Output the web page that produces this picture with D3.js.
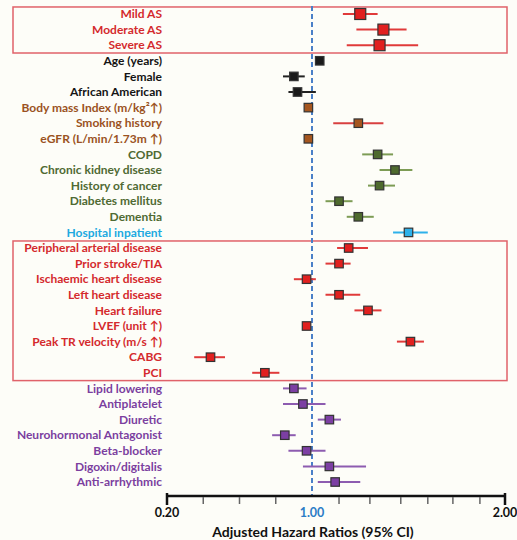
<!DOCTYPE html>
<html><head><meta charset="utf-8">
<script src="https://cdn.jsdelivr.net/npm/d3@7"></script>
<style>body{margin:0;background:#fff}svg{display:block}text{font-family:Lato,"Open Sans",sans-serif;font-weight:700}</style>
</head><body><svg id="c" width="517" height="540"></svg>
<script>
const labels = ["Mild AS","Moderate AS","Severe AS","Age (years)","Female","African American",
"Body mass Index (m/kg\u00B2\u2191)","Smoking history","eGFR (L/min/1.73m \u2191)","COPD","Chronic kidney disease",
"History of cancer","Diabetes mellitus","Dementia","Hospital inpatient","Peripheral arterial disease",
"Prior stroke/TIA","Ischaemic heart disease","Left heart disease","Heart failure","LVEF (unit \u2191)",
"Peak TR velocity (m/s \u2191)","CABG","PCI","Lipid lowering","Antiplatelet","Diuretic",
"Neurohormonal  Antagonist","Beta-blocker","Digoxin/digitalis","Anti-arrhythmic"];
const groups = ["red","red","red","black","black","black","brown","brown","brown","green","green",
"green","green","green","cyan","red","red","red","red","red","red","red","red","red",
"purple","purple","purple","purple","purple","purple","purple"];
const hr   = [1.25,1.37,1.35,1.04,0.90,0.92,0.98,1.24,0.98,1.34,1.43,1.35,1.14,1.24,1.50,1.19,1.14,0.97,1.14,1.29,0.97,1.51,0.44,0.74,0.90,0.95,1.09,0.85,0.97,1.09,1.12];
const lo   = [1.16,1.23,1.18,null,0.84,0.87,null,1.11,null,1.26,1.35,1.29,1.07,1.18,1.42,1.13,1.07,0.90,1.07,1.22,null,1.44,0.35,0.67,0.84,0.84,1.03,0.78,0.87,0.95,1.03];
const hi   = [1.34,1.49,1.55,null,0.96,1.02,null,1.37,null,1.42,1.52,1.43,1.21,1.32,1.60,1.29,1.20,1.02,1.25,1.36,null,1.58,0.52,0.82,0.97,1.07,1.15,0.91,1.07,1.28,1.25];
const majorTicks = [0.2,1,2];
const majorTickLabels = ["0.20","1.00","2.00"];
const minorTicks = [0.4,0.6,0.8,1.14,1.3,1.46,1.6,1.73,1.87];
const boxedRows = [[0,2],[15,23]];

const textCol = {red:"#d42a2d",black:"#141414",brown:"#9a5222",green:"#4f6a33",cyan:"#20a9e0",purple:"#7b3f9f"};
const fillCol = {red:"#e1201f",black:"#1a1a1a",brown:"#a5561f",green:"#4e6a2e",cyan:"#2eb1ea",purple:"#7c3fa3"};
const lineCol = {red:"#e03a3a",black:"#222",brown:"#d84040",green:"#7d9c55",cyan:"#2eb1ea",purple:"#8d5cb0"};

const svg = d3.select("#c");
svg.append("rect").attr("width",517).attr("height",540).attr("fill","#fdfdf8");
const x = d3.scaleLinear().domain([0.2,1,2]).range([167,312,505]);
const y = d3.scalePoint().domain(d3.range(labels.length)).range([14,482]);
const step = y.step();

// red boxes
boxedRows.forEach(([a,b])=>{
  svg.append("rect").attr("x",13).attr("width",494)
    .attr("y",y(a)-step*0.45).attr("height",y(b)-y(a)+step*0.95)
    .attr("fill","none").attr("stroke","#e0626a").attr("stroke-width",1.5);
});

// reference line
const axisY = 496;
svg.append("line").attr("x1",x(1)).attr("x2",x(1)).attr("y1",6).attr("y2",axisY)
  .attr("stroke","#4a80c8").attr("stroke-width",2).attr("stroke-dasharray","5,3");

// labels
svg.append("g").selectAll("text").data(labels).join("text")
  .attr("x",162).attr("y",(d,i)=>y(i)).attr("dy","0.35em").attr("text-anchor","end")
  .attr("font-size",12).attr("fill",(d,i)=>textCol[groups[i]]).text(d=>d);

// CIs
const rows = d3.range(labels.length);
svg.append("g").selectAll("line").data(rows.filter(i=>lo[i]!=null)).join("line")
  .attr("x1",i=>x(lo[i])).attr("x2",i=>x(hi[i])).attr("y1",i=>y(i)).attr("y2",i=>y(i))
  .attr("stroke",i=>lineCol[groups[i]]).attr("stroke-width",2);
// squares
svg.append("g").selectAll("rect").data(rows).join("rect")
  .each(function(i){
    const s = i<3 ? 11 : 8.5;
    d3.select(this).attr("x",x(hr[i])-s/2).attr("y",y(i)-s/2).attr("width",s).attr("height",s);
  })
  .attr("fill",i=>fillCol[groups[i]]).attr("stroke","#333").attr("stroke-width",1.2);

// axis
const ax = svg.append("g").attr("transform",`translate(0,${axisY})`);
ax.append("line").attr("x1",x(0.2)).attr("x2",x(2)).attr("stroke","#111").attr("stroke-width",2.5);
ax.selectAll(".mn").data(minorTicks).join("line").attr("class","mn")
  .attr("x1",d=>x(d)).attr("x2",d=>x(d)).attr("y1",1).attr("y2",8)
  .attr("stroke","#666").attr("stroke-width",1.5);
ax.selectAll(".mj").data(majorTicks.filter(d=>d!==1)).join("line").attr("class","mj")
  .attr("x1",d=>x(d)).attr("x2",d=>x(d)).attr("y1",-3).attr("y2",9)
  .attr("stroke","#111").attr("stroke-width",2.5);
ax.selectAll("text").data(majorTicks).join("text")
  .attr("x",d=>x(d)).attr("y",21).attr("text-anchor","middle").attr("font-size",12.5)
  .attr("fill",d=>d===1?"#2b7cc6":"#111").text((d,i)=>majorTickLabels[i]);
svg.append("text").attr("x",313).attr("y",537).attr("text-anchor","middle")
  .attr("font-size",14).attr("fill","#111").text("Adjusted Hazard Ratios (95% CI)");
</script></body></html>
